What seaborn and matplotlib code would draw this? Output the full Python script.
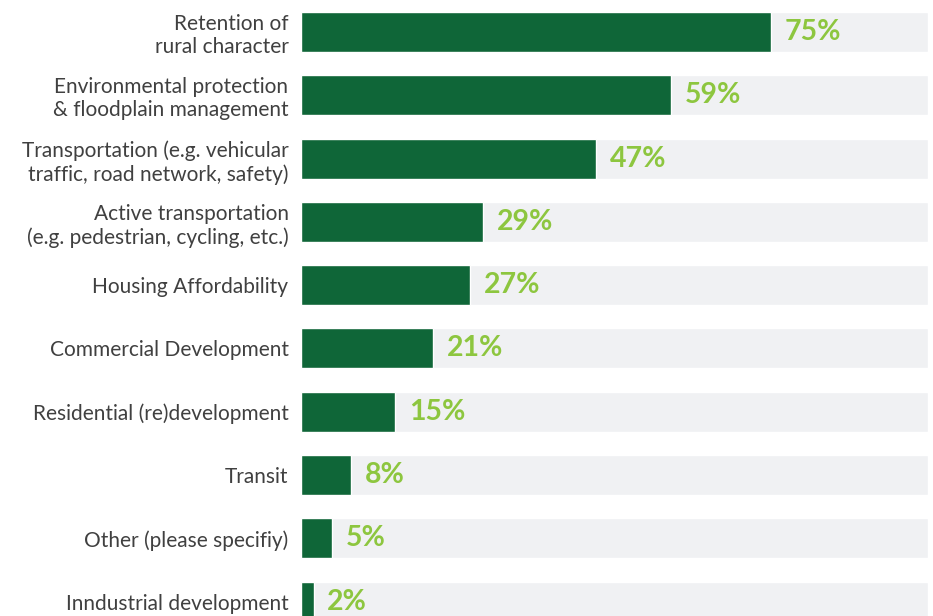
import matplotlib
matplotlib.use("Agg")
import matplotlib.pyplot as plt
import seaborn as sns
import pandas as pd

categories = [
    "Retention of\nrural character",
    "Environmental protection\n& floodplain management",
    "Transportation (e.g. vehicular\ntraffic, road network, safety)",
    "Active transportation\n(e.g. pedestrian, cycling, etc.)",
    "Housing Affordability",
    "Commercial Development",
    "Residential (re)development",
    "Transit",
    "Other (please specifiy)",
    "Inndustrial development",
]
values = [75, 59, 47, 29, 27, 21, 15, 8, 5, 2]
full_scale = [100] * len(categories)

df = pd.DataFrame({"category": categories, "value": values, "full": full_scale})

sns.set_theme(style="white")
plt.rcParams["font.family"] = ["Lato", "DejaVu Sans"]

fig = plt.figure(figsize=(9.33, 6.16), dpi=100)
W, H = 933, 616
ax = fig.add_axes([301 / W, 0, (928 - 301) / W, 1])

first_center = 32.0
row_px = 63.3
bar_h = 40 / row_px

sns.barplot(data=df, y="category", x="full", orient="h", color="#f0f1f3",
            width=bar_h, ax=ax, saturation=1)
sns.barplot(data=df, y="category", x="value", orient="h", color="#0f6638",
            width=bar_h, ax=ax, saturation=1)

ax.set_xlim(0, 100)
top = -first_center / row_px
bottom = (H - first_center) / row_px
ax.set_ylim(bottom, top)

for i, v in enumerate(values):
    ax.text(v + 2.2, i, f"{v}%", va="center", ha="left", fontsize=20.5,
            fontweight="bold", color="#8dc63f")

ax.set_xlabel("")
ax.set_ylabel("")
ax.set_xticks([])
ax.tick_params(axis="y", length=0, pad=9)
for lab in ax.get_yticklabels():
    lab.set_fontsize(15)
    lab.set_color("#404040")
    lab.set_multialignment("right")
    lab.set_linespacing(1.2)
for s in ax.spines.values():
    s.set_visible(False)

fig.savefig("out.png", dpi=100)
